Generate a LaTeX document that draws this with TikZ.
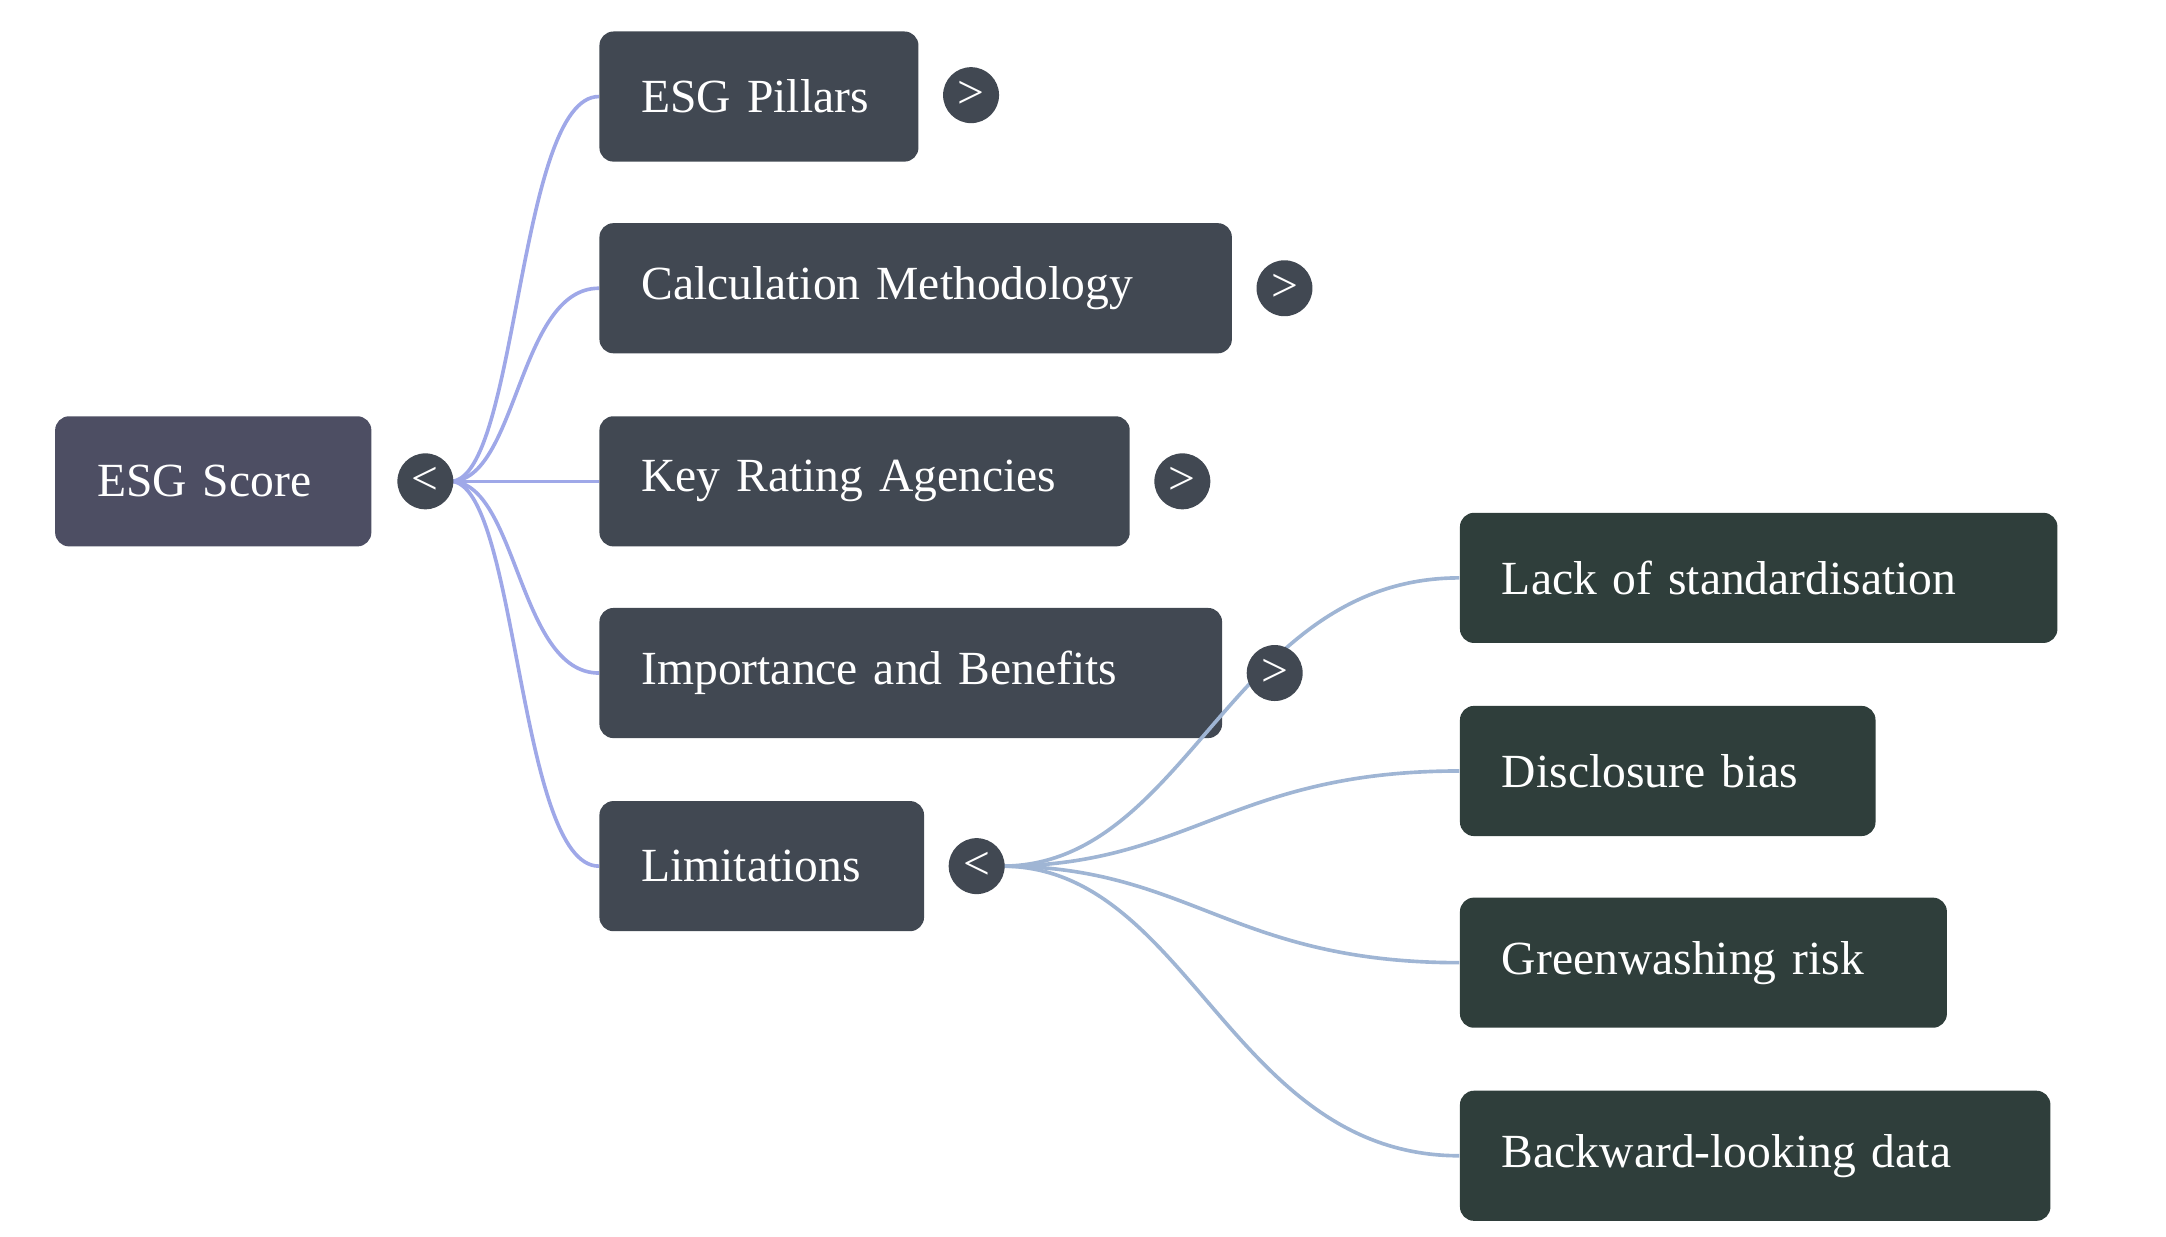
\documentclass[tikz,border=0pt]{standalone}
\usepackage{fontspec}
\setmainfont{Liberation Serif}
\begin{document}
\begin{tikzpicture}[x=0.5pt,y=-0.5pt,
  box/.style={anchor=west,rounded corners=5pt,minimum height=46.5pt,inner xsep=15pt,align=left,text=white,font=\fontsize{17}{20}\selectfont},
  root/.style={box,fill=rootc},
  kid/.style={box,fill=kidc},
  leaf/.style={box,fill=leafc},
  tog/.style={circle,fill=kidc,minimum size=20pt,inner sep=0pt,text=white,font=\fontsize{17}{20}\selectfont},
  e1/.style={draw=edgeA,line width=1.3pt},
  e2/.style={draw=edgeB,line width=1.3pt}]
\definecolor{rootc}{HTML}{4D4E63}
\definecolor{kidc}{HTML}{414852}
\definecolor{leafc}{HTML}{2F3E3B}
\definecolor{edgeA}{HTML}{9FA8E8}
\definecolor{edgeB}{HTML}{9FB5D4}
\useasboundingbox (0,0) rectangle (1548,884);
\node[root,text width=83pt] (r) at (39,344) {ESG Score};
\node[kid,text width=84pt] (a) at (428,69) {ESG Pillars};
\node[kid,text width=196pt] (b) at (428,206) {Calculation Methodology};
\node[kid,text width=159.5pt] (c) at (428,344) {Key Rating Agencies};
\node[kid,text width=192.5pt] (d) at (428,481) {Importance and Benefits};
\node[kid,text width=86pt] (l) at (428,619) {Limitations};
\node[leaf,text width=183.5pt] (l1) at (1043,413) {Lack of standardisation};
\node[leaf,text width=118.5pt] (l2) at (1043,551) {Disclosure bias};
\node[leaf,text width=144pt] (l3) at (1043,688) {Greenwashing risk};
\node[leaf,text width=181pt] (l4) at (1043,826) {Backward-looking data};
\coordinate (rs) at (322,344);
\coordinate (ls) at (716,619);
\foreach \t in {a,b,c,d,l} \draw[e1] (rs) .. controls (370,344) and (370,0 |- \t.west) .. (\t.west);
\foreach \t in {l1,l2,l3,l4} \draw[e2] (ls) .. controls (850,619) and (880,0 |- \t.west) .. (\t.west);
\node[tog] (tr) at (304,344) {<};
\node[tog] (ta) at (694,68) {>};
\node[tog] (tb) at (918,206) {>};
\node[tog] (tc) at (845,344) {>};
\node[tog] (td) at (911,481) {>};
\node[tog] (tl) at (698,619) {<};
\end{tikzpicture}
\end{document}
